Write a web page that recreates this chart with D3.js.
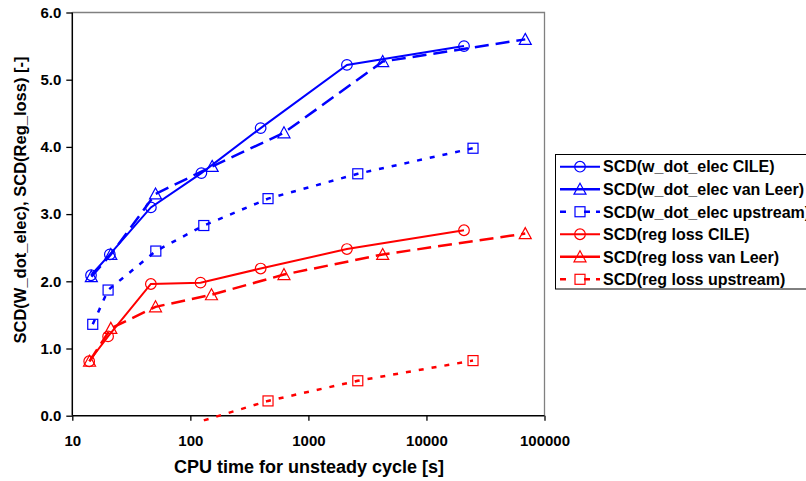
<!DOCTYPE html>
<html>
<head>
<meta charset="utf-8">
<script src="https://cdn.jsdelivr.net/npm/d3@7/dist/d3.min.js"></script>
<style>
  html, body { margin: 0; padding: 0; background: #fff; }
  svg { display: block; }
  text { font-family: "Liberation Sans", Arial, sans-serif; font-weight: bold; fill: #000; }
</style>
</head>
<body>
<svg id="chart" width="806" height="481"></svg>
<script>
// ---- data ----
const xTicks = [10, 100, 1000, 10000, 100000];
const xTickLabels = ["10", "100", "1000", "10000", "100000"];
const yTicks = [0, 1, 2, 3, 4, 5, 6];
const yTickLabels = ["0.0", "1.0", "2.0", "3.0", "4.0", "5.0", "6.0"];

const timeWCile = [14.4, 20.8, 46.3, 124, 394, 2120, 20800];
const scdWCile  = [2.09, 2.40, 3.10, 3.61, 4.28, 5.22, 5.50];
const timeWVanLeer = [14.5, 21.2, 50.7, 153, 621, 4260, 68700];
const scdWVanLeer  = [2.07, 2.40, 3.30, 3.71, 4.21, 5.27, 5.60];
const timeWUpstream = [14.9, 20.1, 51, 130, 455, 2620, 24800];
const scdWUpstream  = [1.36, 1.87, 2.45, 2.83, 3.23, 3.60, 3.98];
const timeRCile = [13.9, 20.1, 46.3, 122, 394, 2120, 20800];
const scdRCile  = [0.81, 1.18, 1.96, 1.98, 2.19, 2.48, 2.76];
const timeRVanLeer = [14.0, 21.2, 50.7, 151, 621, 4260, 68700];
const scdRVanLeer  = [0.81, 1.30, 1.62, 1.80, 2.10, 2.40, 2.71];
const timeRUpstream = [130, 455, 2620, 24800];
const scdRUpstream  = [-0.07, 0.22, 0.52, 0.82];

const seriesNames = [
  "SCD(w_dot_elec CILE)",
  "SCD(w_dot_elec van Leer)",
  "SCD(w_dot_elec upstream)",
  "SCD(reg loss CILE)",
  "SCD(reg loss van Leer)",
  "SCD(reg loss upstream)"
];

const xTitle = "CPU time for unsteady cycle [s]";
const yTitle = "SCD(W_dot_elec), SCD(Reg_loss) [-]";

// ---- styles ----
const BLUE = "#0000ff", RED = "#ff0000";
const styles = [
  { color: BLUE, dash: null,   width: 2,   marker: "circle" },
  { color: BLUE, dash: "14,7", width: 2.5, marker: "triangle" },
  { color: BLUE, dash: "5,8",  width: 2.5, marker: "square" },
  { color: RED,  dash: null,   width: 2,   marker: "circle" },
  { color: RED,  dash: "14,7", width: 2.5, marker: "triangle" },
  { color: RED,  dash: "5,8",  width: 2.5, marker: "square" }
];
const seriesData = [
  [timeWCile, scdWCile], [timeWVanLeer, scdWVanLeer], [timeWUpstream, scdWUpstream],
  [timeRCile, scdRCile], [timeRVanLeer, scdRVanLeer], [timeRUpstream, scdRUpstream]
].map(([t, v]) => t.map((d, i) => ({ t: d, v: v[i] })));

// ---- layout ----
const L = 72.3, R = 544.5, T = 12.5, B = 415.7;
const svg = d3.select("#chart");
const x = d3.scaleLog().domain([10, 100000]).range([L, R]);
const y = d3.scaleLinear().domain([0, 6]).range([B, T]);

// plot border (top/right gray)
svg.append("path")
  .attr("d", `M${L},${T}H${R}V${B}`)
  .attr("fill", "none").attr("stroke", "#808080").attr("stroke-width", 1.3);

// axes
const xAxis = d3.axisBottom(x).tickValues(xTicks)
  .tickFormat((d, i) => xTickLabels[i]).tickSize(5).tickPadding(15);
const gx = svg.append("g").attr("transform", `translate(0,${B})`).call(xAxis);
gx.select(".domain").attr("stroke", "#000").attr("stroke-width", 1.5).attr("d", `M${L},0H${R}`);
gx.selectAll(".tick line").attr("stroke", "#000").attr("stroke-width", 1.3);
gx.selectAll(".tick text").style("font-size", "15px").attr("fill", "#000");

const yAxis = d3.axisLeft(y).tickValues(yTicks)
  .tickFormat((d, i) => yTickLabels[i]).tickSize(6).tickPadding(5);
const gy = svg.append("g").attr("transform", `translate(${L},0)`).call(yAxis);
gy.select(".domain").attr("stroke", "#000").attr("stroke-width", 1.5).attr("d", `M0,${T}V${B}`);
gy.selectAll(".tick line").attr("stroke", "#000").attr("stroke-width", 1.3);
gy.selectAll(".tick text").style("font-size", "15px").attr("fill", "#000");
svg.selectAll(".tick text").style("font-family", "'Liberation Sans', Arial, sans-serif").style("font-weight", "bold");

// titles
svg.append("text").attr("x", 309).attr("y", 473).attr("text-anchor", "middle")
  .style("font-size", "18px").text(xTitle);
svg.append("text").attr("transform", "translate(26,200) rotate(-90)").attr("text-anchor", "middle")
  .style("font-size", "16.5px").text(yTitle);

// clip
svg.append("clipPath").attr("id", "plotclip").append("rect")
  .attr("x", L - 8).attr("y", T - 8).attr("width", R - L + 16).attr("height", B - T + 14);

function drawMarker(g, type, cx, cy, color) {
  if (type === "circle") {
    g.append("circle").attr("cx", cx).attr("cy", cy).attr("r", 5.3)
      .attr("fill", "none").attr("stroke", color).attr("stroke-width", 1.2);
  } else if (type === "triangle") {
    g.append("path").attr("d", `M${cx},${cy - 6}L${cx + 6},${cy + 5}L${cx - 6},${cy + 5}Z`)
      .attr("fill", "none").attr("stroke", color).attr("stroke-width", 1.2);
  } else {
    g.append("rect").attr("x", cx - 5).attr("y", cy - 5).attr("width", 10).attr("height", 10)
      .attr("fill", "none").attr("stroke", color).attr("stroke-width", 1.2);
  }
}

const line = d3.line().x(d => x(d.t)).y(d => y(d.v));
const plot = svg.append("g").attr("clip-path", "url(#plotclip)");
seriesData.forEach((data, i) => {
  const s = styles[i];
  plot.append("path").datum(data).attr("d", line)
    .attr("fill", "none").attr("stroke", s.color).attr("stroke-width", s.width)
    .attr("stroke-dasharray", s.dash);
  const mg = plot.append("g");
  data.forEach(d => {
    if (d.v >= 0) drawMarker(mg, s.marker, x(d.t), y(d.v), s.color);
  });
});

// legend
const lg = svg.append("g");
lg.append("rect").attr("x", 555.5).attr("y", 154.5).attr("width", 300).attr("height", 134.5)
  .attr("fill", "#fff").attr("stroke", "#000").attr("stroke-width", 1);
const rowY = d3.scaleLinear().domain([0, 5]).range([166.7, 279.3]);
seriesNames.forEach((name, i) => {
  const s = styles[i];
  const yy = rowY(i);
  lg.append("line").attr("x1", 560).attr("x2", 600).attr("y1", yy).attr("y2", yy)
    .attr("stroke", s.color).attr("stroke-width", s.width)
    .attr("stroke-dasharray", s.dash === "5,8" ? "6,10,0,8,6" : null);
  drawMarker(lg, s.marker, 580, yy, s.color);
  lg.append("text").attr("x", 603).attr("y", yy).attr("dy", "0.36em")
    .style("font-size", "16px").text(name);
});
</script>
</body>
</html>
